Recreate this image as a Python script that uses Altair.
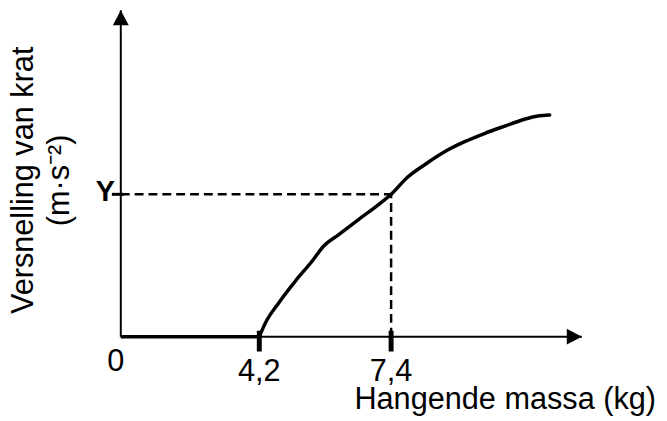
import altair as alt
import pandas as pd

# ---- values ----
curve_x = [4.2, 4.36, 4.68, 5.08, 5.48, 5.76, 6.12, 6.60, 7.08, 7.4, 7.76, 8.24, 8.72, 9.20, 9.68, 10.16, 10.64, 10.96, 11.25]
curve_y = [0.0, 0.45, 1.05, 1.71, 2.31, 2.77, 3.12, 3.58, 4.03, 4.36, 4.84, 5.29, 5.68, 5.98, 6.23, 6.45, 6.66, 6.76, 6.79]
base_x = [0.0, 4.2]            # zero-acceleration part on the axis
tick_values = [4.2, 7.4]
tick_labels = ["4,2", "7,4"]
origin_label = ["0"]
mass_read = 7.4
acc_read = 4.36
y_mark_label = ["Y"]
x_max = 12.03
y_max = 10.0
x_title = ["Hangende massa (kg)"]
y_title_lines = ["Versnelling van krat", "(m·s⁻²)"]

FONT = "Liberation Sans"
FS = 31

xs = alt.Scale(domain=[0, 4.2, x_max], range=[0, 140, 466], nice=False, zero=False)
ys = alt.Scale(domain=[0, y_max], nice=False, zero=False)


def X(field="x"):
    return alt.X(f"{field}:Q", scale=xs, axis=None)


def Y(field="y"):
    return alt.Y(f"{field}:Q", scale=ys, axis=None)


# axes lines
y_axis = alt.Chart(pd.DataFrame({"x": [0.0], "y": [0.0], "y2": [y_max]})).mark_rule(
    color="black", strokeWidth=2).encode(x=X(), y=Y(), y2="y2:Q")
x_axis = alt.Chart(pd.DataFrame({"x": [0.0], "x2": [x_max], "y": [0.0]})).mark_rule(
    color="black", strokeWidth=2).encode(x=X(), x2="x2:Q", y=Y())

arrow_up = alt.Chart(pd.DataFrame({"x": [0.0], "y": [y_max]})).mark_point(
    shape="M0,0L-1,1.9L1,1.9Z", size=256, filled=True, color="black", opacity=1,
    strokeWidth=0).encode(x=X(), y=Y())
arrow_right = alt.Chart(pd.DataFrame({"x": [x_max], "y": [0.0]})).mark_point(
    shape="M0,0L-1.9,-1L-1.9,1Z", size=256, filled=True, color="black", opacity=1,
    strokeWidth=0).encode(x=X(), y=Y())

# flat part of the graph
base = alt.Chart(pd.DataFrame({"x": [base_x[0]], "x2": [base_x[1]], "y": [0.0]})).mark_rule(
    color="black", strokeWidth=3.5).encode(x=X(), x2="x2:Q", y=Y())

# curve
curve = alt.Chart(pd.DataFrame({"x": curve_x, "y": curve_y})).mark_line(
    color="black", strokeWidth=3.5, interpolate="monotone", strokeCap="round").encode(
    x=X(), y=Y(), order="x:Q")

# dashed reading lines
dash_h = alt.Chart(pd.DataFrame({"x": [0.0], "x2": [mass_read], "y": [acc_read]})).mark_rule(
    color="black", strokeWidth=2.5, strokeDash=[9, 5]).encode(x=X(), x2="x2:Q", y=Y())
dash_v = alt.Chart(pd.DataFrame({"x": [mass_read], "y": [0.0], "y2": [acc_read]})).mark_rule(
    color="black", strokeWidth=2.5, strokeDash=[9, 5]).encode(x=X(), y=Y(), y2="y2:Q")

# thick tick marks on x axis
xticks = alt.Chart(pd.DataFrame({"x": tick_values, "y": [0.0] * len(tick_values)})).mark_rule(
    color="black", strokeWidth=5, yOffset=-6, y2Offset=15).encode(x=X(), y=Y(), y2="y:Q")

# tick at Y on y axis
ytick = alt.Chart(pd.DataFrame({"x": [0.0], "y": [acc_read]})).mark_rule(
    color="black", strokeWidth=3, xOffset=-9, x2Offset=3).encode(x=X(), x2="x:Q", y=Y())

# labels
xlabels = alt.Chart(pd.DataFrame({"x": tick_values, "y": [0.0] * len(tick_values), "t": tick_labels})).mark_text(
    font=FONT, fontSize=FS, color="black", align="center", baseline="alphabetic", dy=45).encode(
    x=X(), y=Y(), text="t:N")
zero_label = alt.Chart(pd.DataFrame({"x": [0.0], "y": [0.0], "t": origin_label})).mark_text(
    font=FONT, fontSize=FS, color="black", align="center", baseline="alphabetic", dx=-5, dy=35).encode(
    x=X(), y=Y(), text="t:N")
y_label = alt.Chart(pd.DataFrame({"x": [0.0], "y": [acc_read], "t": y_mark_label})).mark_text(
    font=FONT, fontSize=29, fontWeight="bold", color="black", align="right", baseline="alphabetic",
    dx=-6, dy=7).encode(x=X(), y=Y(), text="t:N")

xtitle = alt.Chart(pd.DataFrame({"x": [x_max], "y": [0.0], "t": x_title})).mark_text(
    font=FONT, fontSize=FS, color="black", align="right", baseline="alphabetic", dx=75, dy=73).encode(
    x=X(), y=Y(), text="t:N")

ytitle = alt.Chart(pd.DataFrame({"x": [0.0], "y": [y_max / 2], "t": ["\n".join(y_title_lines)]})).mark_text(
    font=FONT, fontSize=FS, color="black", align="center", baseline="alphabetic", angle=270,
    lineBreak="\n", lineHeight=37, dx=-7, dy=-89).encode(x=X(), y=Y(), text="t:N")

chart = alt.layer(
    dash_h, dash_v, y_axis, x_axis, base, curve, xticks, ytick,
    arrow_up, arrow_right, xlabels, zero_label, y_label, xtitle, ytitle
).properties(
    width=466, height=330,
    autosize=alt.AutoSizeParams(type="none"),
    padding={"left": 114, "top": 0, "right": 78, "bottom": 80},
    background="white",
).configure_view(stroke=None)

chart.save("out.html", embed_options={"renderer": "svg", "actions": False})
